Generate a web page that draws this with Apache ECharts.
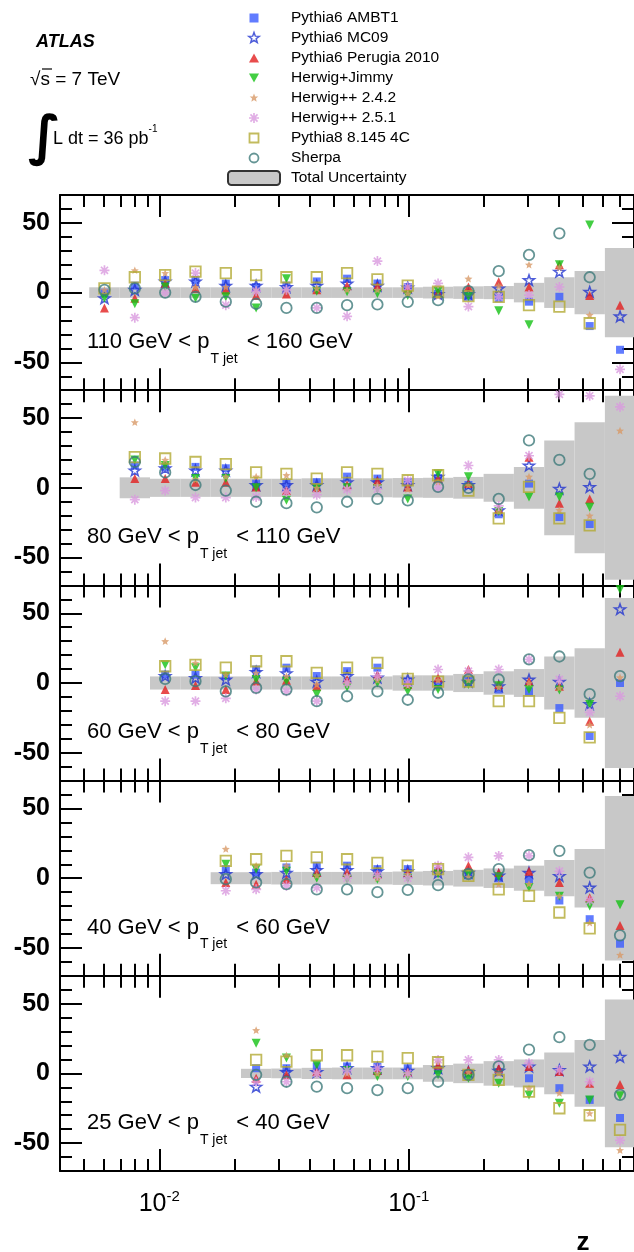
<!DOCTYPE html>
<html>
<head>
<meta charset="utf-8">
<script src="https://cdn.jsdelivr.net/npm/echarts@6/dist/echarts.min.js"></script>
<style>
  html, body { margin: 0; padding: 0; background: #fff; }
  #chart { width: 634px; height: 1252px; }
</style>
</head>
<body>
<div id="chart"></div>
<script>
// ---- binning in z (log-spaced bins) ----
const zCenters = [0.00603, 0.00798, 0.01056, 0.01397, 0.01848, 0.02445, 0.03234, 0.04279, 0.05661,
                  0.0749, 0.09911, 0.1311, 0.1735, 0.2295, 0.3035, 0.4017, 0.5314, 0.7032];
const zEdges = [0.00524, 0.00694, 0.00918, 0.01214, 0.01607, 0.02126, 0.02812, 0.03721, 0.04923, 0.06513,
                0.08618, 0.114, 0.1508, 0.1996, 0.264, 0.3493, 0.4622, 0.6115, 0.809];
const zMin = 0.004, zMax = 0.8;
const zMajorTicks = [0.01, 0.1];
const zMinorTicks = [0.005, 0.006, 0.007, 0.008, 0.009, 0.02, 0.03, 0.04, 0.05, 0.06, 0.07, 0.08, 0.09,
                     0.2, 0.3, 0.4, 0.5, 0.6, 0.7];
const yMin = -70, yMax = 70;
const yMajorTicks = [-50, 0, 50];
const yMinorTicks = [-60, -40, -30, -20, -10, 10, 20, 30, 40, 60];

const generators = ['Pythia6 AMBT1', 'Pythia6 MC09', 'Pythia6 Perugia 2010', 'Herwig+Jimmy',
                    'Herwig++ 2.4.2', 'Herwig++ 2.5.1', 'Pythia8 8.145 4C', 'Sherpa'];
const bandName = 'Total Uncertainty';
const panelLabels = ['110 GeV < p{sub|T jet} < 160 GeV', '80 GeV < p{sub|T jet} < 110 GeV',
                     '60 GeV < p{sub|T jet} < 80 GeV', '40 GeV < p{sub|T jet} < 60 GeV',
                     '25 GeV < p{sub|T jet} < 40 GeV'];

// ---- (MC - data)/data [%], 110 < pT < 160 GeV ----
const ambt1Pt110   = [0, 5, 9, 9, 6.5, 4, 5, 8, 10, 6.5, 4, -1, -3, -4, -6.5, -3, -24, -41];
const mc09Pt110    = [-4, 2, 8, 8, 5, 5, 4, 5, 6.5, 5, 3.7, -1, -1, 3, 9, 15, 0.6, -17];
const perugiaPt110 = [-11, -4, 6.5, 3, 2, -2, -1, 2, 5, 4.7, 3, 0, 4, 7.8, 4, 20, -2, -9];
const jimmyPt110   = [-4, -8, 4, -4, -3, -11, 10, 1, 0.6, -0.6, -2, 1, -3, -13, -23, 20, 48.5, null];
const hpp242Pt110  = [2, 16, 14, 4, 4, 2, 2, 3, 2, 2, -0.6, -2.5, 10, 5, 20, 18, -16, null];
const hpp251Pt110  = [16, -18, 0, 14, -9, 1, 2, -11, -17, 22.6, 4, 6.6, -10, -3, -1.8, 4, null, -55];
const py8Pt110     = [3, 11, 12.5, 15, 14, 12.5, 11, 11, 14, 9.5, 5, 0.6, -2.5, -3, -9, -10, -22, null];
const sherpaPt110  = [2, 3, 0, -3, -6.5, -8, -11, -11, -9, -8.5, -6.6, -5.4, 1, 15.4, 27, 42.5, 11, null];
const bandPt110    = [3.8, 3.8, 3.8, 3.8, 3.8, 3.8, 3.8, 3.8, 3.8, 3.8, 3.8, 4.2, 4.5, 4.7, 7, 11, 15.5, 32];

// ---- 80 < pT < 110 GeV ----
const ambt1Pt80   = [null, 16, 15, 15, 14, 3, 3, 4, 8, 6.6, 4, 7, 2, -19, 3, -21, -26, null];
const mc09Pt80    = [null, 12.5, 14, 12.5, 12.5, 2, 2, 2, 4, 4, 2, 8, 2, -16, 16, -0.6, 0.6, null];
const perugiaPt80 = [null, 6.6, 6.6, 4, 4, 0.6, -2, 0, 2, 5, 0.6, 6.6, 3, -15, 22, -11, -8, null];
const jimmyPt80   = [null, 20, 16, 6.6, 6.6, 0, -9, -0.6, 0, -0.6, -8, 10, 8, -17, -6.6, -6.6, -14, null];
const hpp242Pt80  = [null, 47, 20, 6, 8, 8, 9, 0, 0, 2, -1, 4, 2, -17, 8, -16, -20, 41];
const hpp251Pt80  = [null, -8.5, -2, -7, -7, -6.6, -3, -5, -1.3, -1, 5.4, 0, 16, -13, 23, 67, 66, 58];
const py8Pt80     = [null, 22, 21, 18.5, 17, 11, 10, 6.6, 11, 10, 5.4, 9, -2, -22, 0.6, -22, -27, null];
const sherpaPt80  = [null, 18.5, 11, 2, -2, -10, -11, -14, -10, -8, -9, 0.6, 0, -8, 34, 20, 10, null];
const bandPt80    = [null, 7.5, 6.5, 6.5, 6.5, 6.5, 6.5, 6.8, 6.8, 6.8, 7, 7.2, 7.8, 10, 15, 34, 47, 66];

// ---- 60 < pT < 80 GeV ----
const ambt1Pt60   = [null, null, 6, 6, 5, 9.7, 11, 5, 8.5, 11, 1, -1, 2, -4.7, -6, -18, -38, 0];
const mc09Pt60    = [null, null, 5, 3.7, 2.5, 8, 7, 1, 5, 4, 2.5, 0, 1, -2.3, 2.5, 1, -15, 53];
const perugiaPt60 = [null, null, -4.7, -1.8, -4.7, 1.5, 2, -2.3, 2.5, 6, -1, 3.7, 9.7, -1, 1, -2.3, -27.5, 22];
const jimmyPt60   = [null, null, 13, 11, 5, 2.5, 1.3, -8, -3, 0, -6, -4.7, -1, -2, -4.7, -5, -15.5, 67];
const hpp242Pt60  = [null, null, 30, 14.5, 6, 7.3, 5, -1, 0, 2, -2, 2, 2, -3, 0, -3.5, -30, 4];
const hpp251Pt60  = [null, null, -13, -13, -11, -4.7, -6, -13, 0, 5, 0, 9.7, 8.5, 9.7, 17, 2.5, -21, -9.5];
const py8Pt60     = [null, null, 12, 13, 11, 15.6, 15.6, 7.3, 11, 14.5, 3, 1, 1, -13, -13, -25, -39, null];
const sherpaPt60  = [null, null, 3, 1.3, -6, -3.5, -4.7, -13, -9.5, -6, -12, -7, 2.5, 2.5, 17, 19, -8, 5];
const bandPt60    = [null, null, 4.7, 4.7, 4.7, 4.7, 4.7, 4.7, 4.7, 4.7, 5.5, 5.5, 6.5, 8.4, 10, 19, 25, 61];

// ---- 40 < pT < 60 GeV ----
const ambt1Pt40   = [null, null, null, null, 6.5, 4, 7.7, 9, 9, 6.5, 6.5, 5, 2, 0, -1, -16, -29.4, -47];
const mc09Pt40    = [null, null, null, null, 3, 3, 4, 6, 6, 5, 5, 4, 4, 2, 4, 1.7, -6.7, null];
const perugiaPt40 = [null, null, null, null, -3, -4.3, -1, 4, 4, 3, 4, 8, 9, 4, 5, -3, -14, -34];
const jimmyPt40   = [null, null, null, null, 10, 6.5, 5, 0, -0.7, -0.7, 0, 3, 3, 1, -6.7, -13, -20, -19];
const hpp242Pt40  = [null, null, null, null, 21, 9, 9, 2, 2, 0, 3, 4, 1, -4.3, -4, -12.7, -32, -55];
const hpp251Pt40  = [null, null, null, null, -9, -8, -5.5, -6.7, 0, 2, 0, 9, 15, 16, 16, 5, -16, null];
const py8Pt40     = [null, null, null, null, 12.4, 13.6, 16, 15, 13.6, 11, 9, 6.5, 1.7, -8, -12.7, -24.6, -36, null];
const sherpaPt40  = [null, null, null, null, -0.7, -3, -4.3, -8, -8, -10, -8.4, -5, 3, 6.5, 16.5, 19.6, 4, -41];
const bandPt40    = [null, null, null, null, 4.3, 4.3, 4.5, 4.5, 4.5, 4.5, 4.8, 5.2, 6, 7, 9, 13, 21, 59];

// ---- 25 < pT < 40 GeV ----
const ambt1Pt25   = [null, null, null, null, null, 3.7, 3.7, 5, 5, 5, 3.7, 2.5, 0, 1, -3.5, -10.6, -19, -32];
const mc09Pt25    = [null, null, null, null, null, -9.5, 1, 1, 4, 4, 2, 4, 1, 2, 5, 2.5, 5, 12];
const perugiaPt25 = [null, null, null, null, null, -3.5, -1, 1.3, -1, 2, 1, 6, 2.5, 3.7, 5, 1.3, -7, -8];
const jimmyPt25   = [null, null, null, null, null, 21.6, 11, 6, 2, -2.3, -2.3, -1, -3.5, -7, -15.5, -21.4, -19, -16];
const hpp242Pt25  = [null, null, null, null, null, 31, 13, 0, 0, 0, 0, 8.5, 1, 0, -10.6, -14, -28.6, -55];
const hpp251Pt25  = [null, null, null, null, null, -6, -6, 0, 2, 3.7, 0, 9.7, 9.7, 9.7, 7.3, 2.5, -6, -48];
const py8Pt25     = [null, null, null, null, null, 9.7, 8.5, 13, 13, 12, 11, 8, -1, -4.7, -13, -25, -30, -40.5];
const sherpaPt25  = [null, null, null, null, null, -1, -6, -9.5, -10.6, -12, -10.6, -6, -1, 5, 17, 26, 20.5, -15.4];
const bandPt25    = [null, null, null, null, null, 3.3, 3.5, 4, 4.2, 4.2, 4.2, 6, 7, 8.8, 10, 15, 24, 53];

const panels = [
  { label: panelLabels[0], band: bandPt110,
    values: [ambt1Pt110, mc09Pt110, perugiaPt110, jimmyPt110, hpp242Pt110, hpp251Pt110, py8Pt110, sherpaPt110] },
  { label: panelLabels[1], band: bandPt80,
    values: [ambt1Pt80, mc09Pt80, perugiaPt80, jimmyPt80, hpp242Pt80, hpp251Pt80, py8Pt80, sherpaPt80] },
  { label: panelLabels[2], band: bandPt60,
    values: [ambt1Pt60, mc09Pt60, perugiaPt60, jimmyPt60, hpp242Pt60, hpp251Pt60, py8Pt60, sherpaPt60] },
  { label: panelLabels[3], band: bandPt40,
    values: [ambt1Pt40, mc09Pt40, perugiaPt40, jimmyPt40, hpp242Pt40, hpp251Pt40, py8Pt40, sherpaPt40] },
  { label: panelLabels[4], band: bandPt25,
    values: [ambt1Pt25, mc09Pt25, perugiaPt25, jimmyPt25, hpp242Pt25, hpp251Pt25, py8Pt25, sherpaPt25] }
];

// ---- marker shapes ----
function starPath(R, r) {
  let d = '';
  for (let k = 0; k < 10; k++) {
    const a = -Math.PI / 2 + k * Math.PI / 5;
    const rad = k % 2 === 0 ? R : r;
    d += (k === 0 ? 'M' : 'L') + (rad * Math.cos(a)).toFixed(2) + ',' + (rad * Math.sin(a)).toFixed(2);
  }
  return d + 'Z';
}
function asteriskPath(R) {
  const q = (R * 0.7071).toFixed(2);
  return 'M' + (-R) + ',0L' + R + ',0M0,' + (-R) + 'L0,' + R +
         'M-' + q + ',-' + q + 'L' + q + ',' + q + 'M-' + q + ',' + q + 'L' + q + ',-' + q;
}
const legendPad = 'M-7,-7M7,7';
const hollow = 'rgba(255,255,255,0)';
const FONT = '"Liberation Sans", Arial, Helvetica, sans-serif';

const markerStyles = [
  { symbol: 'rect', size: 8, rotate: 0, itemStyle: { color: '#3a5bff' },
    legendIcon: legendPad + 'M-4.5,-4.5L4.5,-4.5L4.5,4.5L-4.5,4.5Z' },
  { symbol: 'path://' + starPath(10, 4), size: 11, rotate: 0,
    itemStyle: { color: hollow, borderColor: '#2234d0', borderWidth: 1.5 },
    legendIcon: legendPad + starPath(5.5, 2.3) },
  { symbol: 'triangle', size: 9, rotate: 0, itemStyle: { color: '#e21f1f' },
    legendIcon: legendPad + 'M0,-4.5L5,4.5L-5,4.5Z' },
  { symbol: 'triangle', size: 9, rotate: 180, itemStyle: { color: '#14c214' },
    legendIcon: legendPad + 'M-5,-4.5L5,-4.5L0,4.5Z' },
  { symbol: 'path://' + starPath(10, 4.5), size: 8, rotate: 0, itemStyle: { color: '#d89a68' },
    legendIcon: legendPad + starPath(4.5, 2) },
  { symbol: 'path://' + asteriskPath(5), size: 10, rotate: 0,
    itemStyle: { color: hollow, borderColor: '#d99ade', borderWidth: 1.7 },
    legendIcon: legendPad + asteriskPath(5) },
  { symbol: 'rect', size: 10.5, rotate: 0,
    itemStyle: { color: hollow, borderColor: '#b3aa35', borderWidth: 1.8 },
    legendIcon: legendPad + 'M-4.5,-4.5L4.5,-4.5L4.5,4.5L-4.5,4.5Z' },
  { symbol: 'circle', size: 10.5, rotate: 0,
    itemStyle: { color: hollow, borderColor: '#3f7a7a', borderWidth: 1.8 },
    legendIcon: legendPad + 'M-4.5,0A4.5,4.5,0,1,0,4.5,0A4.5,4.5,0,1,0,-4.5,0Z' }
];

// ---- layout ----
const gridLeft = 60, gridRight = -12, gridTop0 = 195, panelH = 195.2;
const lzMin = Math.log10(zMin), lzMax = Math.log10(zMax);
const lMajor = zMajorTicks.map(Math.log10), lMinor = zMinorTicks.map(Math.log10);

const grids = [], xAxes = [], yAxes = [], series = [], graphics = [];

function xAxisDef(g, position, ticks, len, showLine, label) {
  return {
    gridIndex: g, type: 'value', position: position, min: lzMin, max: lzMax,
    axisLine: { show: showLine, onZero: false, lineStyle: { color: '#000', width: 2 } },
    axisTick: { show: true, inside: true, length: len, customValues: ticks,
                lineStyle: { color: '#000', width: 2 } },
    axisLabel: label || { show: false },
    splitLine: { show: false }
  };
}
function yAxisDef(g, position, ticks, len, showLine, label) {
  return {
    gridIndex: g, type: 'value', position: position, min: yMin, max: yMax,
    axisLine: { show: showLine, onZero: false, lineStyle: { color: '#000', width: 2 } },
    axisTick: { show: true, inside: true, length: len, customValues: ticks,
                lineStyle: { color: '#000', width: 2 } },
    axisLabel: label || { show: false },
    splitLine: { show: false }
  };
}

panels.forEach((panel, g) => {
  const top = gridTop0 + g * panelH;
  grids.push({ left: gridLeft, right: gridRight, top: top, height: panelH, containLabel: false });

  const xLabel = g === panels.length - 1 ? {
    show: true, customValues: lMajor, margin: 18,
    formatter: v => '{b|10}{s|' + Math.round(v) + '}',
    rich: {
      b: { fontSize: 25, fontFamily: FONT, color: '#000', lineHeight: 28, verticalAlign: 'bottom' },
      s: { fontSize: 15, fontFamily: FONT, color: '#000', lineHeight: 15, verticalAlign: 'top' }
    }
  } : null;
  xAxes.push(xAxisDef(g, 'bottom', lMajor, 22, true, xLabel));
  xAxes.push(xAxisDef(g, 'bottom', lMinor, 12, false, null));
  xAxes.push(xAxisDef(g, 'top', lMajor, 22, true, null));
  xAxes.push(xAxisDef(g, 'top', lMinor, 12, false, null));

  yAxes.push(yAxisDef(g, 'left', yMajorTicks, 22, true, {
    show: true, customValues: yMajorTicks, margin: 10, fontSize: 25, fontWeight: 'bold',
    fontFamily: FONT, color: '#000'
  }));
  yAxes.push(yAxisDef(g, 'left', yMinorTicks, 12, false, null));
  yAxes.push(yAxisDef(g, 'right', yMajorTicks, 22, true, null));
  yAxes.push(yAxisDef(g, 'right', yMinorTicks, 12, false, null));

  // total uncertainty band, one box per z bin
  const bandData = [];
  panel.band.forEach((h, i) => {
    if (h != null) bandData.push([Math.log10(zEdges[i]), Math.log10(zEdges[i + 1]), h]);
  });
  series.push({
    type: 'custom', name: bandName, xAxisIndex: 4 * g, yAxisIndex: 4 * g, z: 1,
    itemStyle: { color: '#c8c8c8' },
    encode: { x: [0, 1], y: 2 },
    data: bandData,
    renderItem: (params, api) => {
      const p0 = api.coord([api.value(0), api.value(2)]);
      const p1 = api.coord([api.value(1), -api.value(2)]);
      const cs = params.coordSys;
      const shape = echarts.graphic.clipRectByRect(
        { x: p0[0], y: p0[1], width: p1[0] - p0[0], height: p1[1] - p0[1] },
        { x: cs.x, y: cs.y, width: cs.width, height: cs.height });
      return shape && { type: 'rect', shape: shape, style: { fill: '#c8c8c8' } };
    }
  });

  // generator markers
  panel.values.forEach((vals, s) => {
    const st = markerStyles[s];
    const pts = [];
    vals.forEach((v, i) => { if (v != null) pts.push([Math.log10(zCenters[i]), v]); });
    series.push({
      type: 'scatter', name: generators[s], xAxisIndex: 4 * g, yAxisIndex: 4 * g, z: 2 + s,
      symbol: st.symbol, symbolSize: st.size, symbolRotate: st.rotate, symbolKeepAspect: true,
      itemStyle: st.itemStyle, clip: true, silent: true, data: pts
    });
  });

  graphics.push({
    type: 'text', x: 87, y: top + 147,
    style: {
      text: panel.label, fontSize: 22, fontFamily: FONT, fill: '#000', lineHeight: 48,
      align: 'left', verticalAlign: 'middle',
      rich: { sub: { fontSize: 14, fontFamily: FONT, fill: '#000', lineHeight: 14,
                     verticalAlign: 'bottom', padding: [0, 3, 0, 1] } }
    }
  });
});

// ---- header texts ----
graphics.push(
  { type: 'text', x: 36, y: 42, style: { text: 'ATLAS', fontSize: 18, fontWeight: 'bold', fontStyle: 'italic',
    fontFamily: FONT, fill: '#000', verticalAlign: 'middle' } },
  { type: 'text', x: 30, y: 80, style: { text: '\u221As = 7 TeV', fontSize: 19, fontFamily: FONT, fill: '#000',
    verticalAlign: 'middle' } },
  { type: 'line', shape: { x1: 42, y1: 69, x2: 52, y2: 69 }, style: { stroke: '#000', lineWidth: 1.2 } },
  { type: 'text', x: 28, y: 140, style: { text: '\u222B', fontSize: 54, fontWeight: 'bold',
    fontFamily: '"DejaVu Sans", sans-serif', fill: '#000', verticalAlign: 'middle' } },
  { type: 'text', x: 53, y: 139, style: { text: 'L dt = 36 pb{s|-1}', fontSize: 18, fontFamily: FONT,
    fill: '#000', verticalAlign: 'middle', lineHeight: 30,
    rich: { s: { fontSize: 10, fontFamily: FONT, fill: '#000', lineHeight: 10, verticalAlign: 'top' } } } },
  { type: 'text', x: 583, y: 1243, style: { text: 'z', fontSize: 26, fontWeight: 'bold', fontFamily: FONT,
    fill: '#000', align: 'center', verticalAlign: 'middle' } }
);

const legendData = generators.map((name, s) => ({
  name: name, icon: 'path://' + markerStyles[s].legendIcon,
  itemStyle: Object.assign({ borderWidth: 0 }, markerStyles[s].itemStyle)
}));
legendData.push({ name: bandName, icon: 'roundRect',
  itemStyle: { color: '#c8c8c8', borderColor: '#333', borderWidth: 2 } });

const chart = echarts.init(document.getElementById('chart'), null, { renderer: 'canvas' });
chart.setOption({
  animation: false,
  backgroundColor: '#fff',
  legend: {
    orient: 'vertical', left: 222, top: 5, padding: 5, itemWidth: 52, itemHeight: 14, itemGap: 4,
    selectedMode: false, data: legendData,
    textStyle: { fontSize: 15.5, fontFamily: FONT, color: '#000', padding: [0, 0, 0, 6] }
  },
  grid: grids,
  xAxis: xAxes,
  yAxis: yAxes,
  series: series,
  graphic: graphics
});
</script>
</body>
</html>
